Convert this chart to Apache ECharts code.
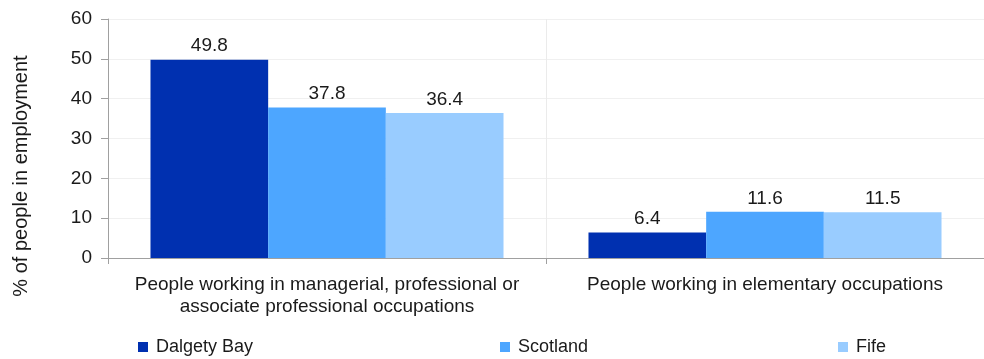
<!DOCTYPE html>
<html>
<head>
<meta charset="utf-8">
<script src="https://cdn.jsdelivr.net/npm/echarts@6/dist/echarts.min.js"></script>
<style>
  html, body { margin: 0; padding: 0; background: #fff; }
  #chart { width: 984px; height: 359px; }
</style>
</head>
<body>
<div id="chart"></div>
<script>
// Occupation groups shown on the category axis
const categories = [
  'People working in managerial, professional or\nassociate professional occupations',
  'People working in elementary occupations'
];
// Share of people in employment (%) per area
const dalgetyBay = [49.8, 6.4];
const scotland = [37.8, 11.6];
const fife = [36.4, 11.5];
const seriesNames = ['Dalgety Bay', 'Scotland', 'Fife'];
const yTicks = { min: 0, max: 60, interval: 10 };

const FONT = '"Liberation Sans", Arial, sans-serif';
const TEXT = '#1a1a1a';
const colors = ['#0030b0', '#4da6ff', '#99ccff'];
const values = [dalgetyBay, scotland, fife];

const chart = echarts.init(document.getElementById('chart'), null, { renderer: 'canvas' });

const legendLefts = [138, 500, 838];

chart.setOption({
  animation: false,
  textStyle: { fontFamily: FONT },
  grid: { left: 108, top: 19, width: 878, height: 239, containLabel: false },
  legend: seriesNames.map((name, i) => ({
    data: [name],
    left: legendLefts[i],
    top: 338,
    icon: 'rect',
    itemWidth: 10,
    itemHeight: 10,
    itemGap: 0,
    padding: 0,
    selectedMode: false,
    textStyle: { fontFamily: FONT, fontSize: 18, color: TEXT, padding: [0, 0, 0, 3] }
  })),
  graphic: [{
    type: 'text',
    rotation: Math.PI / 2,
    x: 21, y: 176,
    style: {
      text: '% of people in employment',
      fontFamily: FONT,
      fontSize: 20,
      fill: TEXT,
      align: 'center',
      verticalAlign: 'middle'
    }
  }],
  xAxis: {
    type: 'category',
    data: categories,
    axisLine: { show: true, lineStyle: { color: '#a0a0a0', width: 1 } },
    axisTick: { show: true, alignWithLabel: false, length: 6, lineStyle: { color: '#a0a0a0' } },
    splitLine: { show: true, lineStyle: { color: '#ebebeb' } },
    axisLabel: {
      interval: 0,
      margin: 16,
      fontFamily: FONT,
      fontSize: 19,
      lineHeight: 22,
      color: TEXT
    }
  },
  yAxis: {
    type: 'value',
    min: yTicks.min,
    max: yTicks.max,
    interval: yTicks.interval,
    axisLine: { show: true, lineStyle: { color: '#a0a0a0', width: 1 } },
    axisTick: { show: true, length: 7, lineStyle: { color: '#a0a0a0' } },
    splitLine: { show: true, lineStyle: { color: '#f0f0f0' } },
    axisLabel: { margin: 16, fontFamily: FONT, fontSize: 19, color: TEXT }
  },
  series: seriesNames.map((name, i) => ({
    name,
    type: 'bar',
    data: values[i],
    barGap: '0%',
    barCategoryGap: '19.4%',
    itemStyle: { color: colors[i] },
    label: {
      show: true,
      position: 'top',
      distance: 4,
      fontFamily: FONT,
      fontSize: 19,
      color: TEXT,
      formatter: p => p.value.toFixed(1)
    }
  }))
});
</script>
</body>
</html>
